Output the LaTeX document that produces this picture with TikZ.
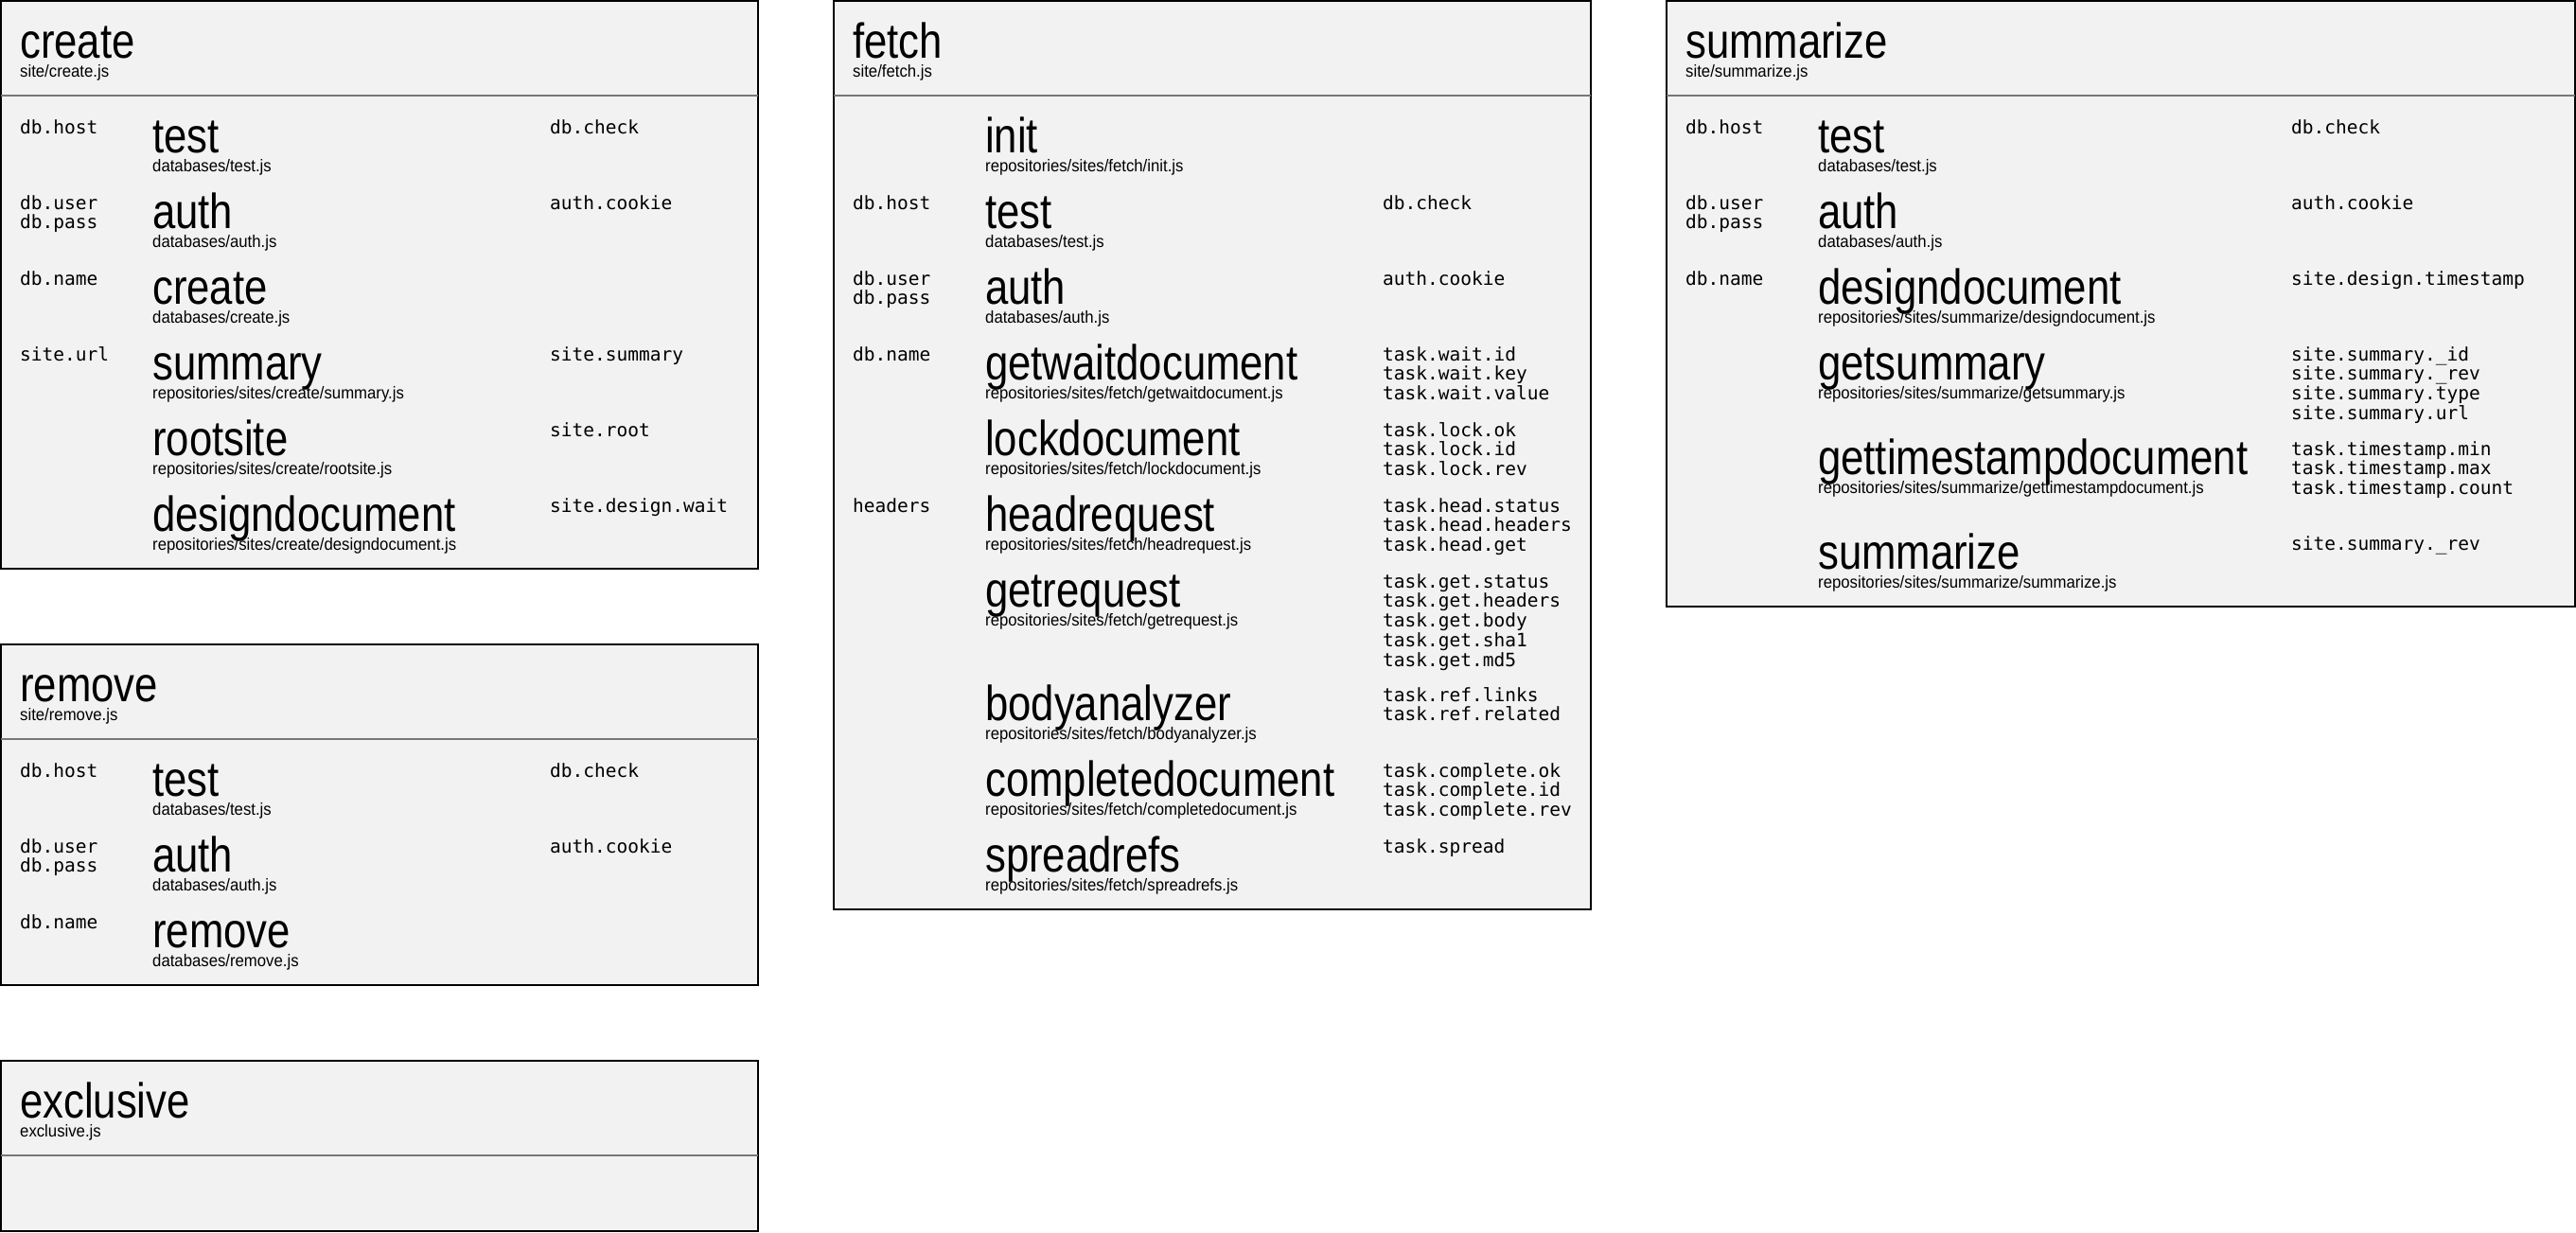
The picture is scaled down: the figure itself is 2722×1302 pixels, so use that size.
\documentclass[tikz,border=0pt]{standalone}
\usepackage{fontspec}
\newfontfamily\bigf[FakeStretch=0.84]{Liberation Sans}
\newfontfamily\subf[FakeStretch=0.93]{Liberation Sans}
\newfontfamily\monof{DejaVu Sans Mono}
\definecolor{panelgray}{HTML}{F2F2F2}
\definecolor{dividergray}{HTML}{777777}
\newcommand\mlines[1]{\begin{tabular}[t]{@{}l@{}}#1\end{tabular}}
\tikzset{
  panel/.style={draw=black, line width=2pt, fill=panelgray, anchor=north west, inner sep=0pt, outer sep=0pt},
  divider/.style={draw=dividergray, line width=2pt},
  bigtext/.style={anchor=base west, inner sep=0pt, font=\bigf\fontsize{52}{52}\selectfont},
  subtext/.style={anchor=base west, inner sep=0pt, font=\subf\fontsize{18}{18}\selectfont},
  monotext/.style={anchor=base west, inner sep=0pt, font=\monof\fontsize{19.5}{20}\selectfont},
}
% #1 name, #2 x0, #3 big baseline y, #4 right column offset, #5 left mono, #6 big, #7 sub, #8 right mono
\newcommand\rowitem[8]{%
  \if\relax\detokenize{#5}\relax\else
    \node[monotext] (#1l) at (#2+20,#3-20) {\mlines{#5}};
  \fi
  \node[bigtext] (#1b) at (#2+160,#3) {#6};
  \node[subtext] (#1s) at (#2+160,#3+20) {#7};
  \if\relax\detokenize{#8}\relax\else
    \node[monotext] (#1r) at (#2+#4,#3-20) {\mlines{#8}};
  \fi
}
% #1 name, #2 x0, #3 top, #4 width, #5 height, #6 title, #7 file
\newcommand\panelbox[7]{%
  \node[panel, minimum width=#4pt, minimum height=#5pt] (#1) at (#2,#3) {};
  \draw[divider] ([yshift=-100pt]#1.north west) -- ([yshift=-100pt]#1.north east);
  \node[bigtext] (#1title) at (#2+20,#3+60) {#6};
  \node[subtext] (#1file) at (#2+20,#3+80) {#7};
}
\begin{document}
\begin{tikzpicture}[x=1pt,y=-1pt]
\useasboundingbox (0,0) rectangle (2722,1302);
\fill[white] (0,0) rectangle (2722,1302);

% create
\panelbox{create}{1}{1}{800}{600}{create}{site/create.js}
\rowitem{cra}{1}{161}{580}{db.host}{test}{databases/test.js}{db.check}
\rowitem{crb}{1}{241}{580}{db.user\\db.pass}{auth}{databases/auth.js}{auth.cookie}
\rowitem{crc}{1}{321}{580}{db.name}{create}{databases/create.js}{}
\rowitem{crd}{1}{401}{580}{site.url}{summary}{repositories/sites/create/summary.js}{site.summary}
\rowitem{cre}{1}{481}{580}{}{rootsite}{repositories/sites/create/rootsite.js}{site.root}
\rowitem{crf}{1}{561}{580}{}{designdocument}{repositories/sites/create/designdocument.js}{site.design.wait}

% remove
\panelbox{remove}{1}{681}{800}{360}{remove}{site/remove.js}
\rowitem{rma}{1}{841}{580}{db.host}{test}{databases/test.js}{db.check}
\rowitem{rmb}{1}{921}{580}{db.user\\db.pass}{auth}{databases/auth.js}{auth.cookie}
\rowitem{rmc}{1}{1001}{580}{db.name}{remove}{databases/remove.js}{}

% exclusive
\panelbox{exclusive}{1}{1121}{800}{180}{exclusive}{exclusive.js}

% fetch
\panelbox{fetch}{881}{1}{800}{960}{fetch}{site/fetch.js}
\rowitem{fea}{881}{161}{580}{}{init}{repositories/sites/fetch/init.js}{}
\rowitem{feb}{881}{241}{580}{db.host}{test}{databases/test.js}{db.check}
\rowitem{fec}{881}{321}{580}{db.user\\db.pass}{auth}{databases/auth.js}{auth.cookie}
\rowitem{fed}{881}{401}{580}{db.name}{getwaitdocument}{repositories/sites/fetch/getwaitdocument.js}{task.wait.id\\task.wait.key\\task.wait.value}
\rowitem{fee}{881}{481}{580}{}{lockdocument}{repositories/sites/fetch/lockdocument.js}{task.lock.ok\\task.lock.id\\task.lock.rev}
\rowitem{fef}{881}{561}{580}{headers}{headrequest}{repositories/sites/fetch/headrequest.js}{task.head.status\\task.head.headers\\task.head.get}
\rowitem{feg}{881}{641}{580}{}{getrequest}{repositories/sites/fetch/getrequest.js}{task.get.status\\task.get.headers\\task.get.body\\task.get.sha1\\task.get.md5}
\rowitem{feh}{881}{761}{580}{}{bodyanalyzer}{repositories/sites/fetch/bodyanalyzer.js}{task.ref.links\\task.ref.related}
\rowitem{fei}{881}{841}{580}{}{completedocument}{repositories/sites/fetch/completedocument.js}{task.complete.ok\\task.complete.id\\task.complete.rev}
\rowitem{fej}{881}{921}{580}{}{spreadrefs}{repositories/sites/fetch/spreadrefs.js}{task.spread}

% summarize
\panelbox{summ}{1761}{1}{960}{640}{summarize}{site/summarize.js}
\rowitem{sua}{1761}{161}{660}{db.host}{test}{databases/test.js}{db.check}
\rowitem{sub}{1761}{241}{660}{db.user\\db.pass}{auth}{databases/auth.js}{auth.cookie}
\rowitem{suc}{1761}{321}{660}{db.name}{designdocument}{repositories/sites/summarize/designdocument.js}{site.design.timestamp}
\rowitem{sud}{1761}{401}{660}{}{getsummary}{repositories/sites/summarize/getsummary.js}{site.summary.\_id\\site.summary.\_rev\\site.summary.type\\site.summary.url}
\rowitem{sue}{1761}{501}{660}{}{gettimestampdocument}{repositories/sites/summarize/gettimestampdocument.js}{task.timestamp.min\\task.timestamp.max\\task.timestamp.count}
\rowitem{suf}{1761}{601}{660}{}{summarize}{repositories/sites/summarize/summarize.js}{site.summary.\_rev}
\end{tikzpicture}
\end{document}
